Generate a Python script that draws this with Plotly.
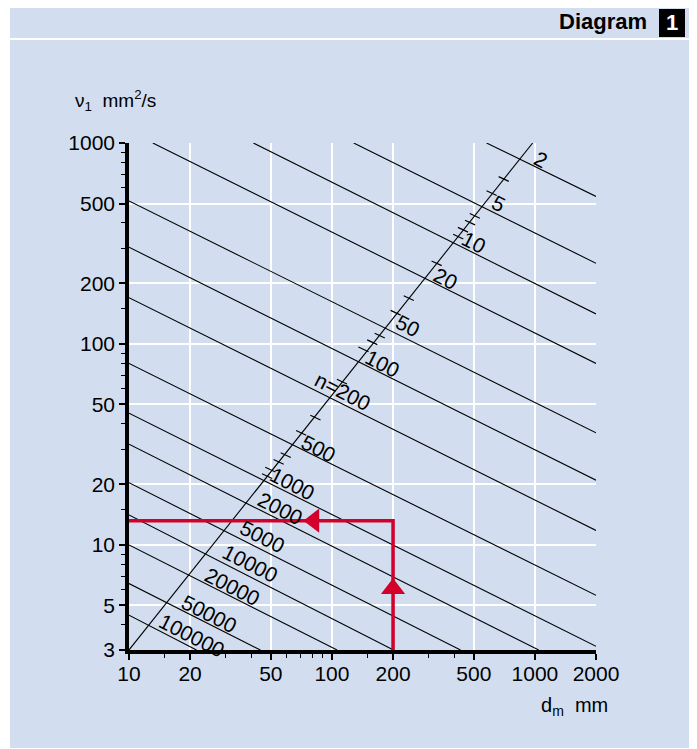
"""Required viscosity nu1 vs. bearing mean diameter dm, one line per speed n."""
import numpy as np
import plotly.graph_objects as go

# speed lines n (r/min), end points (dm mm, nu1 mm2/s)
n_labels = ["2", "5", "10", "20", "50", "100", "n=200", "500", "1000",
            "2000", "5000", "10000", "20000", "50000", "100000"]
line_dm_start = [578, 128, 41, 13.1, 10, 10, 10, 10, 10, 10, 10, 10, 10, 10, 10]
line_nu_start = [1000, 1000, 1000, 1000, 515, 303, 170, 80, 45.2, 31.7, 20.4, 14.1, 10, 6.42, 4.47]
line_dm_end = [2000, 2000, 2000, 2000, 2000, 2000, 2000, 2000, 2000, 1044, 430, 201, 106, 44.4, 21.5]
line_nu_end = [542, 252, 141, 80, 36.1, 21.0, 11.8, 5.61, 3.13, 3, 3, 3, 3, 3, 3]

# where each speed label sits
label_dm = [1069, 665, 501, 363, 235, 177, 113, 86, 63.6, 55.7, 45.3, 39.6, 32.2, 24.7, 20.4]
label_nu = [826, 502, 318, 212, 123, 80, 57.7, 30.2, 20.2, 15.2, 11.0, 8.07, 6.18, 4.55, 3.55]

# the n scale (diagonal) and its small ticks
scale_dm = [10, 975]
scale_nu = [3, 1000]
scale_tick_dm = [702, 612, 506, 479, 442, 419, 328, 239, 206, 172, 158, 143, 112,
                 82.9, 70.5, 59.2, 54.6, 49.7, 47.9]
scale_tick_nu = [662, 563, 434, 402, 370, 342, 252, 169, 143, 110, 102, 94, 65,
                 43, 36.1, 28, 25.9, 23.7, 22]

# worked example: dm = 200 mm -> nu1 about 13 mm2/s
example_dm = [10, 200, 200]
example_nu = [13.2, 13.2, 3]
arrow_up = (200, 6.05)
arrow_left = (81.5, 13.2)

# axes
x_ticks = [10, 20, 50, 100, 200, 500, 1000, 2000]
x_minor = [15, 30, 40, 60, 70, 80, 90, 150, 300, 400]
y_ticks = [3, 5, 10, 20, 50, 100, 200, 500, 1000]
y_minor = [4, 6, 7, 8, 9, 15, 30, 40, 60, 70, 80, 90, 150, 300, 400, 600, 700, 800, 900]

BLUE = "#D2DEEF"
RED = "#D2002A"
FONT = "Liberation Sans, Arial, sans-serif"

fig = go.Figure()

for i in range(len(n_labels)):
    fig.add_trace(go.Scatter(
        x=[line_dm_start[i], line_dm_end[i]], y=[line_nu_start[i], line_nu_end[i]],
        mode="lines", line=dict(color="black", width=1.1),
        hoverinfo="skip", showlegend=False))

fig.add_trace(go.Scatter(x=scale_dm, y=scale_nu, mode="lines",
                         line=dict(color="black", width=1.1),
                         hoverinfo="skip", showlegend=False))
fig.add_trace(go.Scatter(x=scale_tick_dm, y=scale_tick_nu, mode="markers",
                         marker=dict(symbol="line-ew", size=8, angle=25,
                                     line=dict(color="black", width=1.2)),
                         hoverinfo="skip", showlegend=False))

fig.add_trace(go.Scatter(x=example_dm, y=example_nu, mode="lines",
                         line=dict(color=RED, width=3.5),
                         hoverinfo="skip", showlegend=False))
fig.add_trace(go.Scatter(x=[arrow_up[0]], y=[arrow_up[1]], mode="markers",
                         marker=dict(symbol="triangle-up", size=21, color=RED),
                         hoverinfo="skip", showlegend=False))
fig.add_trace(go.Scatter(x=[arrow_left[0]], y=[arrow_left[1]], mode="markers",
                         marker=dict(symbol="triangle-left", size=21, color=RED),
                         hoverinfo="skip", showlegend=False))

annotations = []
for lab, d, v in zip(n_labels, label_dm, label_nu):
    annotations.append(dict(x=np.log10(d), y=np.log10(v), xref="x", yref="y",
                            text=lab, showarrow=False, textangle=27,
                            font=dict(size=21, color="black", family=FONT)))

annotations += [
    dict(x=-0.12, y=1.083, xref="paper", yref="paper", xanchor="left", yanchor="middle",
         text="\u03bd<sub>1</sub>&nbsp; mm<sup>2</sup>/s", showarrow=False,
         font=dict(size=19, color="black", family=FONT)),
    dict(x=1.03, y=-0.112, xref="paper", yref="paper", xanchor="right", yanchor="middle",
         text="d<sub>m</sub>  mm", showarrow=False,
         font=dict(size=20, color="black", family=FONT)),
    dict(x=1.1135, y=1.2387, xref="paper", yref="paper", xanchor="right", yanchor="middle",
         text="<b>Diagram</b>", showarrow=False,
         font=dict(size=22, color="black", family=FONT)),
    dict(x=1.1627, y=1.2367, xref="paper", yref="paper", xanchor="center", yanchor="middle",
         text="<b>1</b>", showarrow=False,
         font=dict(size=22, color="white", family=FONT)),
]

shapes = [
    dict(type="rect", xref="paper", yref="paper", x0=-0.2548, x1=1.2013, y0=-0.1933, y1=1.2663,
         fillcolor=BLUE, line=dict(width=0), layer="below"),
    dict(type="line", xref="paper", yref="paper", x0=-0.2548, x1=1.2013, y0=1.2051, y1=1.2051,
         line=dict(color="white", width=2), layer="below"),
    dict(type="rect", xref="paper", yref="paper", x0=1.1349, x1=1.1906, y0=1.209, y1=1.2643,
         fillcolor="black", line=dict(width=0), layer="below"),
]

axis_common = dict(
    type="log", tickmode="array", showgrid=True, gridcolor="white", gridwidth=1.5,
    showline=True, linecolor="black", linewidth=3.5, ticks="outside", ticklen=6,
    tickwidth=2, tickcolor="black", zeroline=False,
    tickfont=dict(size=21, color="black", family=FONT),
)

# the page body adds an 8 px margin, so the figure is 8 px smaller than the window
fig.update_layout(
    width=689, height=741,
    margin=dict(l=121, r=101, t=135, b=99),
    paper_bgcolor="white", plot_bgcolor=BLUE,
    xaxis=dict(axis_common, range=[1, np.log10(2000)], tickvals=x_ticks,
               ticktext=[str(v) for v in x_ticks], ticklabelstandoff=-4,
               minor=dict(tickvals=x_minor, ticks="outside", ticklen=4, tickwidth=1.3,
                          tickcolor="black", showgrid=False)),
    yaxis=dict(axis_common, range=[np.log10(3), 3], tickvals=y_ticks,
               ticktext=[str(v) for v in y_ticks],
               minor=dict(tickvals=y_minor, ticks="outside", ticklen=4, tickwidth=1.3,
                          tickcolor="black", showgrid=False)),
    annotations=annotations, shapes=shapes, showlegend=False,
)

fig.write_html("out.html")
